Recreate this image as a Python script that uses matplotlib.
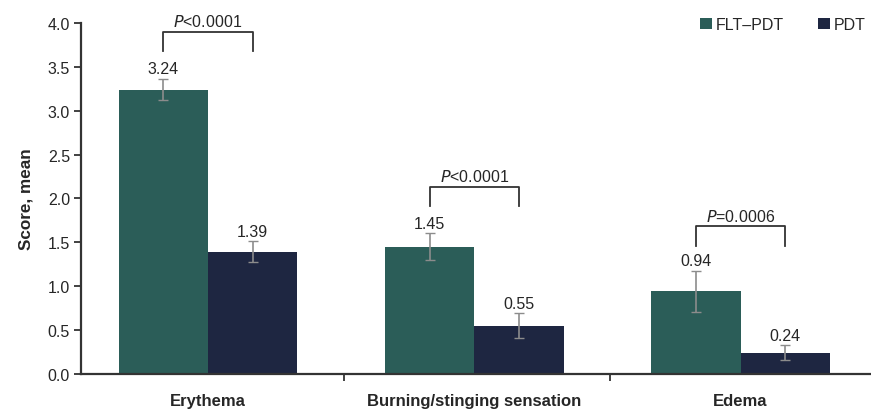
import matplotlib
matplotlib.use("Agg")
import matplotlib.pyplot as plt
import numpy as np

categories = ["Erythema", "Burning/stinging sensation", "Edema"]
series_names = ["FLT\u2013PDT", "PDT"]
flt_pdt = [3.24, 1.45, 0.94]
pdt = [1.39, 0.55, 0.24]
flt_err = [0.12, 0.15, 0.235]
pdt_err = [0.12, 0.14, 0.085]
p_labels = ["<0.0001", "<0.0001", "=0.0006"]
bracket_tops = [3.90, 2.13, 1.68]
yticks = [0.0, 0.5, 1.0, 1.5, 2.0, 2.5, 3.0, 3.5, 4.0]

c_flt = "#2b5d58"
c_pdt = "#1e2641"
txt = "#262626"

plt.rcParams["font.family"] = ["Liberation Sans", "DejaVu Sans"]

fig = plt.figure(figsize=(8.71, 4.10), dpi=100)
ax = fig.add_axes([81 / 871, 0.0859, 1 - 81 / 871, 0.8556])

x = np.arange(len(categories))
w = 0.336
off = 0.168
ax.bar(x - off, flt_pdt, w, color=c_flt, label=series_names[0], zorder=2)
ax.bar(x + off, pdt, w, color=c_pdt, label=series_names[1], zorder=2)
ax.errorbar(x - off, flt_pdt, yerr=flt_err, fmt="none", ecolor="#8c8c8c",
            elinewidth=1.2, capsize=3.5, capthick=1.0, zorder=3)
ax.errorbar(x + off, pdt, yerr=pdt_err, fmt="none", ecolor="#8c8c8c",
            elinewidth=1.2, capsize=3.5, capthick=1.0, zorder=3)

for xi, v, e in zip(x - off, flt_pdt, flt_err):
    ax.text(xi, v + e + 0.03, f"{v:.2f}", ha="center", va="bottom",
            fontsize=11.5, color=txt)
for xi, v, e in zip(x + off, pdt, pdt_err):
    ax.text(xi, v + e + 0.03, f"{v:.2f}", ha="center", va="bottom",
            fontsize=11.5, color=txt)

for xi, top, pl in zip(x, bracket_tops, p_labels):
    x0, x1 = xi - off, xi + off
    ax.plot([x0, x0, x1, x1], [top - 0.22, top, top, top - 0.22],
            color="#333333", lw=1.3, clip_on=False, zorder=4)
    ax.text(xi, top + 0.03, "$\\it{P}$" + pl, ha="center", va="bottom",
            fontsize=11.5, color=txt, clip_on=False)

ax.set_xlim(-0.477, 2.49)
ax.set_ylim(0, 4.0)
ax.set_yticks(yticks)
ax.set_yticklabels([f"{t:.1f}" for t in yticks], fontsize=11.5, color=txt)
ax.set_xticks([0.51, 1.51])
ax.set_xticklabels([])
ax.tick_params(axis="x", length=5, width=1.3, direction="out", color="#333333")
ax.tick_params(axis="y", length=5, width=1.3, direction="out", color="#333333", pad=3)
for i, c in enumerate(categories):
    ax.text(i, -0.22, c, ha="center", va="top", fontsize=12, fontweight="bold",
            color=txt, transform=ax.transData)

for s in ["top", "right"]:
    ax.spines[s].set_visible(False)
for s in ["left", "bottom"]:
    ax.spines[s].set_linewidth(1.6)
    ax.spines[s].set_color("#333333")

ax.set_ylabel("Score, mean", fontsize=12.3, fontweight="bold", color=txt)
ax.yaxis.set_label_coords(-0.0595, 0.5)

leg = fig.legend(loc="upper left", bbox_to_anchor=(700 / 871, 1 - 18 / 410),
                 ncol=2, frameon=False, fontsize=11.5, handlelength=0.75,
                 handleheight=0.75, handletextpad=0.25, columnspacing=2.1,
                 borderaxespad=0, borderpad=0)
for t in leg.get_texts():
    t.set_color(txt)

fig.savefig("out.png", dpi=100)
